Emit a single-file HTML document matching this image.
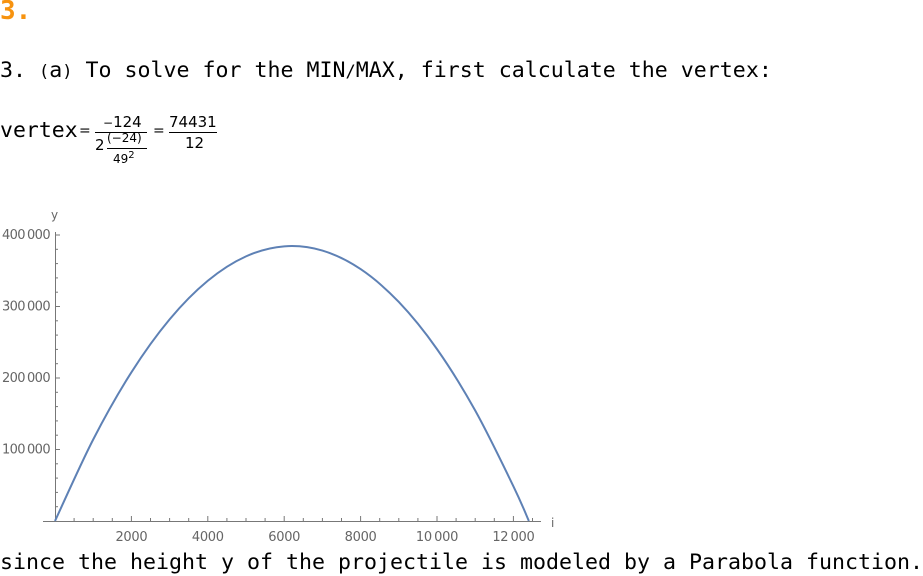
<!DOCTYPE html>
<html><head><meta charset="utf-8"><style>
body{margin:0;width:923px;height:576px;background:#fff;position:relative;overflow:hidden;font-family:"DejaVu Sans Mono","Liberation Mono",monospace;}
.t{position:absolute;white-space:nowrap;color:#000;}
.m{font-family:"DejaVu Sans","Liberation Sans",sans-serif;}
</style></head><body>
<div class="t" style="left:0;top:-4px;font-size:26px;font-weight:bold;color:#f7930f;">3.</div>
<div class="t" style="left:0;top:58px;font-size:21.6px;">3. <span style="font-size:17px">(</span>a<span style="font-size:17px">)</span> To solve for the MIN<span style="font-size:17px">/</span>MAX, first calculate the vertex:</div>
<div class="t" style="left:0;top:118px;font-size:21.5px;">vertex</div>
<div class="m" style="position:absolute;left:0;top:0;">
 <div class="t" style="left:79px;top:123px;font-size:14px;">=</div>
 <div class="t" style="left:103px;top:113px;font-size:15px;"><span style="font-size:12px">−</span>124</div>
 <div style="position:absolute;left:95px;top:132px;width:52px;height:1px;background:#000"></div>
 <div class="t" style="left:95px;top:136px;font-size:15px;">2</div>
 <div class="t" style="left:107px;top:131px;font-size:12px;">(−24)</div>
 <div style="position:absolute;left:107px;top:148px;width:40px;height:1px;background:#000"></div>
 <div class="t" style="left:113px;top:150px;font-size:12px;">49<sup style="font-size:10px">2</sup></div>
 <div class="t" style="left:153px;top:123px;font-size:14px;">=</div>
 <div class="t" style="left:169px;top:113px;font-size:15px;">74431</div>
 <div style="position:absolute;left:169px;top:132px;width:48px;height:1px;background:#000"></div>
 <div class="t" style="left:185px;top:134px;font-size:15px;">12</div>
</div>
<svg id="chart" width="923" height="576" style="position:absolute;left:0;top:0" font-family="DejaVu Sans, Liberation Sans, sans-serif"></svg>
<div class="t" style="left:0;top:550px;font-size:21.6px;">since the height y of the projectile is modeled by a Parabola function.</div>
<script>
const xs=[0,1000,2000,3000,4000,5000,6000,7000,8000,9000,10000,11000,12000,12405];
const ys=[0,114000,208000,282000,336000,370100,384150,378200,352300,306300,240400,154500,48600,0];
const xTicks=[2000,4000,6000,8000,10000,12000];
const xTickLabels=["2000","4000","6000","8000","10\u2009000","12\u2009000"];
const yTicks=[100000,200000,300000,400000];
const yTickLabels=["100\u2009000","200\u2009000","300\u2009000","400\u2009000"];
const svg=document.getElementById('chart');const NS='http://www.w3.org/2000/svg';
const X=v=>55+v*0.0382, Y=v=>521-v*0.000715;
function mk(tag,a,name){const e=document.createElementNS(NS,tag);for(const k in a)e.setAttribute(k,a[k]);


svg.appendChild(e);return e;}
const ax='#777';
mk('line',{x1:43,y1:521.5,x2:541,y2:521.5,stroke:ax},'x-axis');
mk('line',{x1:55.5,y1:521,x2:55.5,y2:232,stroke:ax},'y-axis');
for(let v=500;v<=12500;v+=500){const maj=v%2000===0;mk('line',{x1:X(v),x2:X(v),y1:521,y2:521-(maj?5:3),stroke:ax},'x-tick');}
for(let v=20000;v<=400000;v+=20000){const maj=v%100000===0;mk('line',{x1:55,x2:55+(maj?5:3),y1:Y(v),y2:Y(v),stroke:ax},'y-tick');}
xTicks.forEach((v,i)=>{const t=mk('text',{x:X(v),y:541,'text-anchor':'middle','font-size':13,fill:'#666','letter-spacing':'-0.3'},'x-tick-label');t.textContent=xTickLabels[i];});
yTicks.forEach((v,i)=>{const t=mk('text',{x:50,y:Y(v)+4,'text-anchor':'end','font-size':13,fill:'#666','letter-spacing':'-0.6'},'y-tick-label');t.textContent=yTickLabels[i];});
mk('text',{x:551,y:527,'font-size':12,fill:'#666'},'x-axis-title').textContent='i';
mk('text',{x:51,y:219,'font-size':12,fill:'#666'},'y-axis-title').textContent='y';
const P=xs.map((x,i)=>[X(x),Y(ys[i])]);
let d='M'+P[0][0]+','+P[0][1];
for(let i=0;i<P.length-1;i++){const p0=P[Math.max(0,i-1)],p1=P[i],p2=P[i+1],p3=P[Math.min(P.length-1,i+2)];
d+=' C'+(p1[0]+(p2[0]-p0[0])/6)+','+(p1[1]+(p2[1]-p0[1])/6)+' '+(p2[0]-(p3[0]-p1[0])/6)+','+(p2[1]-(p3[1]-p1[1])/6)+' '+p2[0]+','+p2[1];}
mk('path',{d:d,fill:'none',stroke:'#5e81b5','stroke-width':2},'parabola-curve');
</script>
</body></html>
